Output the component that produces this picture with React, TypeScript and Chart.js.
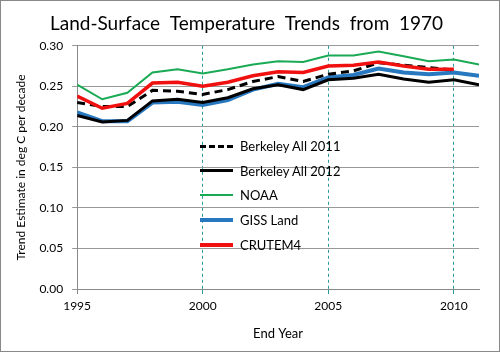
import React, { useEffect, useRef } from "react";
import { Chart, registerables } from "chart.js";

Chart.register(...registerables);

const years = [1995, 1996, 1997, 1998, 1999, 2000, 2001, 2002, 2003, 2004, 2005, 2006, 2007, 2008, 2009, 2010, 2011];
const berkeley2011 = [0.230, 0.225, 0.225, 0.245, 0.244, 0.240, 0.246, 0.256, 0.262, 0.256, 0.265, 0.269, 0.279, 0.276, 0.273, 0.270, null];
const berkeley2012 = [0.214, 0.206, 0.208, 0.232, 0.234, 0.230, 0.236, 0.247, 0.252, 0.246, 0.258, 0.260, 0.265, 0.259, 0.255, 0.258, 0.252];
const noaa = [0.252, 0.234, 0.242, 0.267, 0.271, 0.266, 0.271, 0.277, 0.281, 0.280, 0.288, 0.288, 0.293, 0.287, 0.281, 0.283, 0.277];
const giss = [0.218, 0.207, 0.207, 0.230, 0.231, 0.227, 0.233, 0.246, 0.253, 0.249, 0.261, 0.264, 0.272, 0.267, 0.265, 0.267, 0.263];
const crutem4 = [0.238, 0.223, 0.229, 0.254, 0.255, 0.250, 0.255, 0.263, 0.268, 0.267, 0.275, 0.276, 0.280, 0.275, 0.271, 0.271, null];
const xTicks = [1995, 2000, 2005, 2010];
const seriesNames = ["Berkeley All 2011", "Berkeley All 2012", "NOAA", "GISS Land", "CRUTEM4"];
const seriesValues = [berkeley2011, berkeley2012, noaa, giss, crutem4];
const seriesColors = ["#000000", "#000000", "#1aaa55", "#2878c0", "#f01010"];
const seriesWidths = [3, 3, 2, 4, 3.5];
const seriesDash = [[8, 5], [], [], [], []];
const seriesOrder = [2, 3, 4, 5, 1];

const FONT = "Lato, 'Open Sans', sans-serif";

export default function App() {
  const ref = useRef<HTMLCanvasElement | null>(null);

  useEffect(() => {
    document.body.style.margin = "0";
    const canvas = ref.current;
    if (!canvas) return;
    const datasets = seriesNames.map((name, i) => ({
      label: name,
      data: years
        .map((x, j) => ({ x, y: seriesValues[i][j] }))
        .filter((p) => p.y !== null),
      borderColor: seriesColors[i],
      backgroundColor: seriesColors[i],
      borderWidth: seriesWidths[i],
      borderDash: seriesDash[i],
      pointRadius: 0,
      tension: 0,
      fill: false,
      order: seriesOrder[i],
    }));
    const chart = new Chart(canvas, {
      type: "line",
      data: { datasets },
      options: {
        animation: false,
        responsive: false,
        maintainAspectRatio: false,
        layout: { padding: { left: 13, right: 20, top: 0, bottom: 9 } },
        plugins: {
          legend: { display: false },
          tooltip: { enabled: false },
          title: {
            display: true,
            text: "Land-Surface  Temperature  Trends  from  1970",
            color: "#000",
            font: { family: FONT, size: 19, weight: "normal" },
            padding: { top: 11, bottom: 11 },
          },
        },
        scales: {
          x: {
            type: "linear",
            min: 1995,
            max: 2011,
            afterBuildTicks: (scale: any) => {
              scale.ticks = xTicks.map((v) => ({ value: v }));
            },
            ticks: {
              color: "#000",
              font: { family: FONT, size: 12 },
              padding: 5,
              maxRotation: 0,
              callback: (v: any) => String(v),
            },
            grid: {
              color: (ctx: any) => (ctx.tick && ctx.tick.value === 1995 ? "#888" : "#2a9a9a"),
              lineWidth: 1,
              tickLength: 5,
              tickColor: (ctx: any) => (ctx.tick && ctx.tick.value === 1995 ? "#888" : "#2a9a9a"),
            },
            border: { display: true, color: "#888", width: 1, dash: [3, 3] },
            title: {
              display: true,
              text: "End Year",
              color: "#000",
              font: { family: FONT, size: 13 },
              padding: { top: 8, bottom: 0 },
            },
          },
          y: {
            min: 0,
            max: 0.3,
            ticks: {
              stepSize: 0.05,
              color: "#000",
              font: { family: FONT, size: 12 },
              padding: 9,
              callback: (v: any) => Number(v).toFixed(2),
            },
            grid: { color: "#999", lineWidth: 1, tickLength: 5 },
            border: { display: true, color: "#888", width: 1 },
            title: {
              display: true,
              text: "Trend Estimate in deg C per decade",
              color: "#000",
              font: { family: FONT, size: 12 },
              padding: { top: 0, bottom: 2 },
            },
          },
        },
      },
    });
    return () => chart.destroy();
  }, []);

  const legendTop = 146;
  return (
    <div
      style={{
        position: "absolute",
        left: 0,
        top: 0,
        width: 500,
        height: 352,
        boxSizing: "border-box",
        border: "1px solid #888",
        background: "#fff",
        overflow: "hidden",
      }}
    >
      <canvas ref={ref} width={498} height={350} style={{ display: "block" }} />
      {seriesNames.map((name, i) => (
        <div
          key={name}
          style={{
            position: "absolute",
            left: 199,
            top: legendTop - 1 + i * 24.7 - 10,
            height: 20,
            display: "flex",
            alignItems: "center",
            fontFamily: FONT,
            fontSize: 13,
            color: "#000",
            whiteSpace: "nowrap",
          }}
        >
          <span
            style={{
              display: "inline-block",
              width: 33,
              height: 0,
              borderTop: `${Math.round(seriesWidths[i])}px ${seriesDash[i].length ? "dashed" : "solid"} ${seriesColors[i]}`,
              marginRight: 7,
            }}
          />
          <span>{name}</span>
        </div>
      ))}
    </div>
  );
}
